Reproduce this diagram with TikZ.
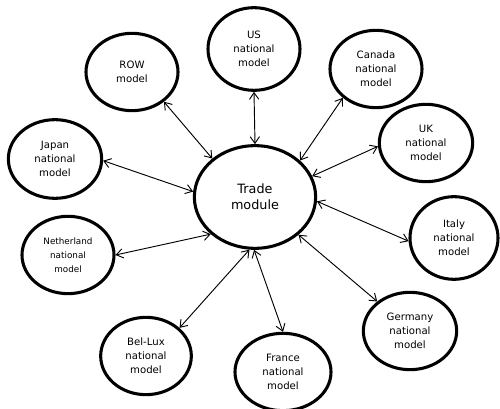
\documentclass[tikz,border=0pt]{standalone}
\usepackage{fontspec}
\setmainfont{DejaVu Sans}
\usetikzlibrary{arrows.meta,shapes.geometric}
\definecolor{inkblack}{HTML}{000000}
\newcommand{\modeltext}{\fontsize{7.6}{10.6}\selectfont}
\newcommand{\smallmodeltext}{\fontsize{6.6}{10.6}\selectfont}
\newcommand{\hubtext}{\fontsize{9.6}{12.2}\selectfont}

\begin{document}
\begin{tikzpicture}[x=0.75pt,y=-0.75pt,font=\modeltext,
  model/.style={ellipse,draw=inkblack,line width=2.3pt,inner sep=0pt,align=center,minimum width=69pt,minimum height=58pt},
  hub/.style={ellipse,draw=inkblack,line width=2.3pt,inner sep=0pt,align=center,minimum width=91pt,minimum height=77pt,font=\hubtext},
  link/.style={{Straight Barb[length=5pt,width=7pt]}-{Straight Barb[length=5pt,width=7pt]},line width=0.7pt,color=inkblack}]
\useasboundingbox (0,0) rectangle (500,409);

\node[hub] (trade) at (255,197) {Trade\\module};

\node[model] (row) at (132,72) {ROW\\model};
\node[model,minimum height=62pt] (us) at (254,49) {US\\national\\model};
\node[model] (canada) at (376,69) {Canada\\national\\model};
\node[model,minimum width=70pt] (uk) at (426,143) {UK\\national\\model};
\node[model,minimum width=66pt,minimum height=62pt] (italy) at (454,238) {Italy\\national\\model};
\node[model,minimum width=70pt] (germany) at (410,331) {Germany\\national\\model};
\node[model,minimum width=72pt] (france) at (283,372) {France\\national\\model};
\node[model,minimum width=68pt] (bellux) at (146,356) {Bel-Lux\\national\\model};
\node[model,font=\smallmodeltext] (netherland) at (68,255) {Netherland\\national\\model};
\node[model,minimum width=70pt,minimum height=59pt] (japan) at (55,159) {Japan\\national\\model};

\draw[link] (row.-43) -- (trade.138);
\draw[link] (us.-90) -- (trade.90);
\draw[link] (canada.-139) -- (trade.39);
\draw[link] (uk.184) -- (trade.20);
\draw[link] (italy.184) -- (trade.-4);
\draw[link] (germany.138) -- (trade.-41);
\draw[link] (france.90) -- (trade.-91);
\draw[link] (bellux.40) -- (trade.-96);
\draw[link] (netherland.0) -- (trade.-140);
\draw[link] (japan.-2) -- (trade.175);
\end{tikzpicture}
\end{document}
